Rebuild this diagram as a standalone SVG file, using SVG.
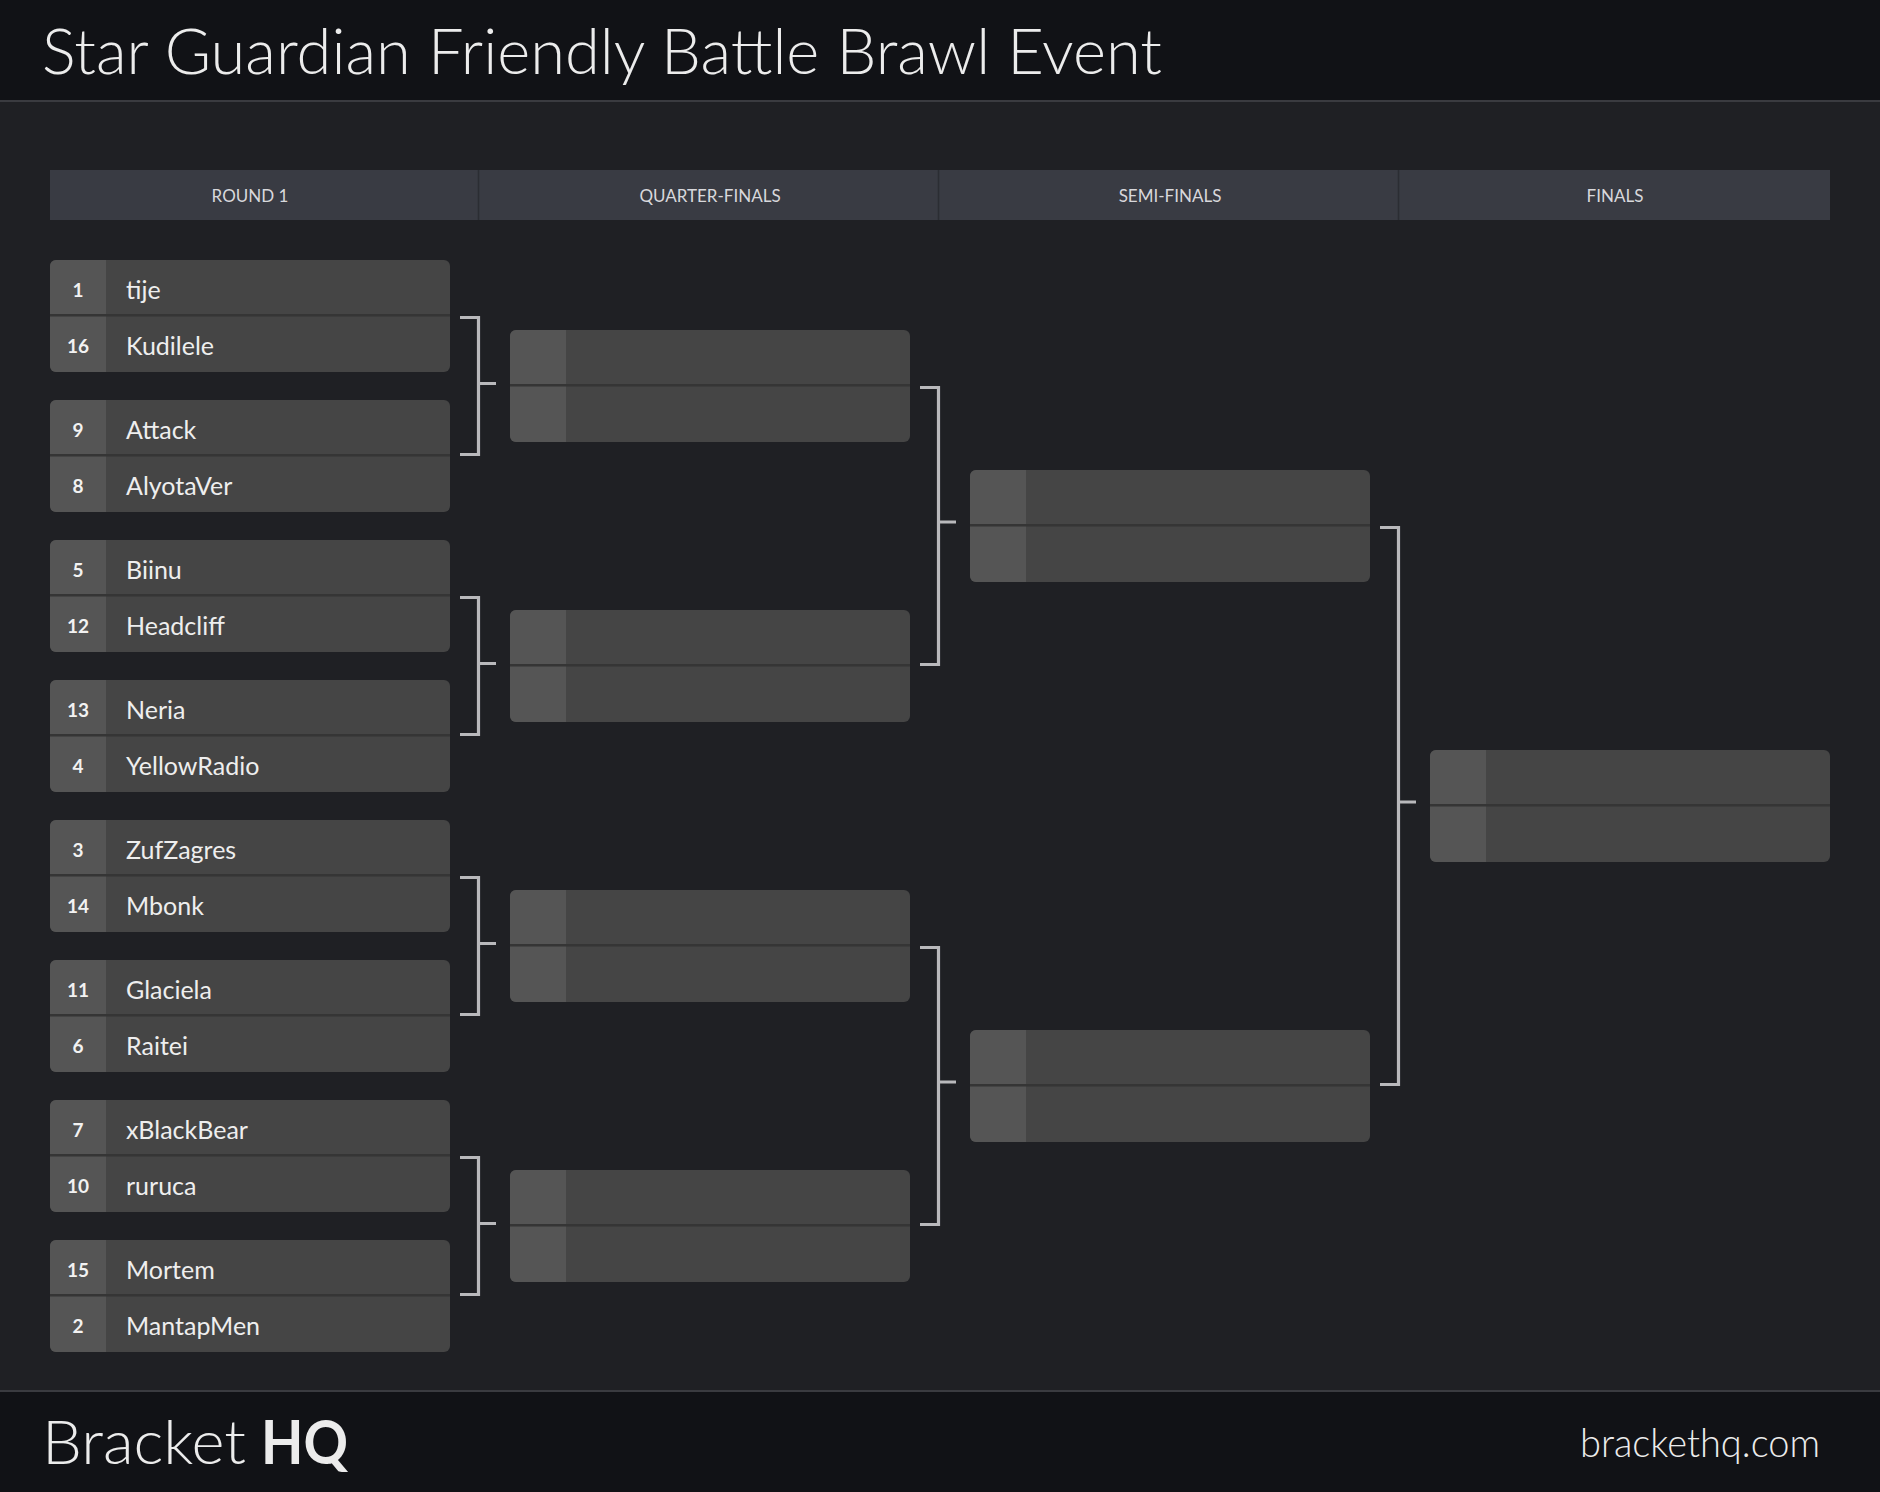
<svg xmlns="http://www.w3.org/2000/svg" width="1880" height="1492" viewBox="0 0 1880 1492">
<defs>
<style>
.bg{fill:#1f2024}
.bar{fill:#111216}
.rule{stroke:#3a3b40;stroke-width:2}
.colhead{fill:#393b43}
.coldiv{stroke:#2b2d33;stroke-width:1.5}
.colt{font-family:Lato,"Liberation Sans",sans-serif;font-size:17px;fill:#d8d8dc;text-anchor:middle}
.slot{fill:#454545}
.seedcol{fill:#555555}
.div{fill:#353535}
.seed{font-family:Lato,"Liberation Sans",sans-serif;font-size:19px;font-weight:700;fill:#f2f2f2;text-anchor:middle}
.name{font-family:Lato,"Liberation Sans",sans-serif;font-size:25px;fill:#eeeeee}
.conn{fill:none;stroke:#b9b9bc;stroke-width:3.2;stroke-linejoin:miter}
.title{font-family:Lato,"Open Sans","Liberation Sans",sans-serif;font-weight:300;fill:#ececec}
.strong{font-family:Lato,"Open Sans","Liberation Sans",sans-serif;font-weight:700;fill:#ececec}
</style>
<g id="matchbox">
<rect class="slot" x="0" y="0" width="400" height="112" rx="6"/>
<path class="seedcol" d="M6,0 H56 V112 H6 A6,6 0 0 1 0,106 V6 A6,6 0 0 1 6,0 Z"/>
<rect class="div" x="0" y="54" width="400" height="2.5"/>
</g>
</defs>
<rect class="bg" x="0" y="0" width="1880" height="1492"/>
<g id="header">
<rect class="bar" x="0" y="0" width="1880" height="100"/>
<line class="rule" x1="0" y1="101" x2="1880" y2="101"/>
<text class="title" x="42" y="74" font-size="64" textLength="1120" lengthAdjust="spacingAndGlyphs">Star Guardian Friendly Battle Brawl Event</text>
</g>
<g id="columns">
<rect class="colhead" x="50" y="170" width="1780" height="50"/>
<line class="coldiv" x1="478.5" y1="170" x2="478.5" y2="220"/>
<line class="coldiv" x1="938.5" y1="170" x2="938.5" y2="220"/>
<line class="coldiv" x1="1398.5" y1="170" x2="1398.5" y2="220"/>
<text class="colt" x="250" y="202">ROUND 1</text>
<text class="colt" x="710" y="202">QUARTER-FINALS</text>
<text class="colt" x="1170" y="202">SEMI-FINALS</text>
<text class="colt" x="1615" y="202">FINALS</text>
</g>
<g id="connectors">
<path class="conn" d="M460,317.5 H478.5 V454.5 H460 M478.5,383.5 H496"/>
<path class="conn" d="M460,597.5 H478.5 V734.5 H460 M478.5,663.5 H496"/>
<path class="conn" d="M460,877.5 H478.5 V1014.5 H460 M478.5,943.5 H496"/>
<path class="conn" d="M460,1157.5 H478.5 V1294.5 H460 M478.5,1223.5 H496"/>
<path class="conn" d="M920,387.5 H938.5 V664.5 H920 M938.5,522 H956"/>
<path class="conn" d="M920,947.5 H938.5 V1224.5 H920 M938.5,1082 H956"/>
<path class="conn" d="M1380,527.5 H1398.5 V1084.5 H1380 M1398.5,802 H1416"/>
</g>
<g id="r1-m1" transform="translate(50,260)"><use href="#matchbox"/><text class="seed" x="28" y="37">1</text><text class="name" x="76" y="39">tije</text><text class="seed" x="28" y="93">16</text><text class="name" x="76" y="95">Kudilele</text></g>
<g id="r1-m2" transform="translate(50,400)"><use href="#matchbox"/><text class="seed" x="28" y="37">9</text><text class="name" x="76" y="39">Attack</text><text class="seed" x="28" y="93">8</text><text class="name" x="76" y="95">AlyotaVer</text></g>
<g id="r1-m3" transform="translate(50,540)"><use href="#matchbox"/><text class="seed" x="28" y="37">5</text><text class="name" x="76" y="39">Biinu</text><text class="seed" x="28" y="93">12</text><text class="name" x="76" y="95">Headcliff</text></g>
<g id="r1-m4" transform="translate(50,680)"><use href="#matchbox"/><text class="seed" x="28" y="37">13</text><text class="name" x="76" y="39">Neria</text><text class="seed" x="28" y="93">4</text><text class="name" x="76" y="95">YellowRadio</text></g>
<g id="r1-m5" transform="translate(50,820)"><use href="#matchbox"/><text class="seed" x="28" y="37">3</text><text class="name" x="76" y="39">ZufZagres</text><text class="seed" x="28" y="93">14</text><text class="name" x="76" y="95">Mbonk</text></g>
<g id="r1-m6" transform="translate(50,960)"><use href="#matchbox"/><text class="seed" x="28" y="37">11</text><text class="name" x="76" y="39">Glaciela</text><text class="seed" x="28" y="93">6</text><text class="name" x="76" y="95">Raitei</text></g>
<g id="r1-m7" transform="translate(50,1100)"><use href="#matchbox"/><text class="seed" x="28" y="37">7</text><text class="name" x="76" y="39">xBlackBear</text><text class="seed" x="28" y="93">10</text><text class="name" x="76" y="95">ruruca</text></g>
<g id="r1-m8" transform="translate(50,1240)"><use href="#matchbox"/><text class="seed" x="28" y="37">15</text><text class="name" x="76" y="39">Mortem</text><text class="seed" x="28" y="93">2</text><text class="name" x="76" y="95">MantapMen</text></g>
<g id="qf-m1" transform="translate(510,330)"><use href="#matchbox"/></g>
<g id="qf-m2" transform="translate(510,610)"><use href="#matchbox"/></g>
<g id="qf-m3" transform="translate(510,890)"><use href="#matchbox"/></g>
<g id="qf-m4" transform="translate(510,1170)"><use href="#matchbox"/></g>
<g id="sf-m1" transform="translate(970,470)"><use href="#matchbox"/></g>
<g id="sf-m2" transform="translate(970,1030)"><use href="#matchbox"/></g>
<g id="final" transform="translate(1430,750)"><use href="#matchbox"/></g>
<g id="footer">
<rect class="bar" x="0" y="1391" width="1880" height="101"/>
<line class="rule" x1="0" y1="1391" x2="1880" y2="1391"/>
<text class="title" x="42" y="1464" font-size="62" textLength="204" lengthAdjust="spacingAndGlyphs">Bracket</text>
<text class="strong" x="261" y="1464" font-size="62" textLength="87" lengthAdjust="spacingAndGlyphs">HQ</text>
<text class="title" x="1580" y="1457" font-size="40" textLength="240" lengthAdjust="spacingAndGlyphs">brackethq.com</text>
</g>
</svg>
